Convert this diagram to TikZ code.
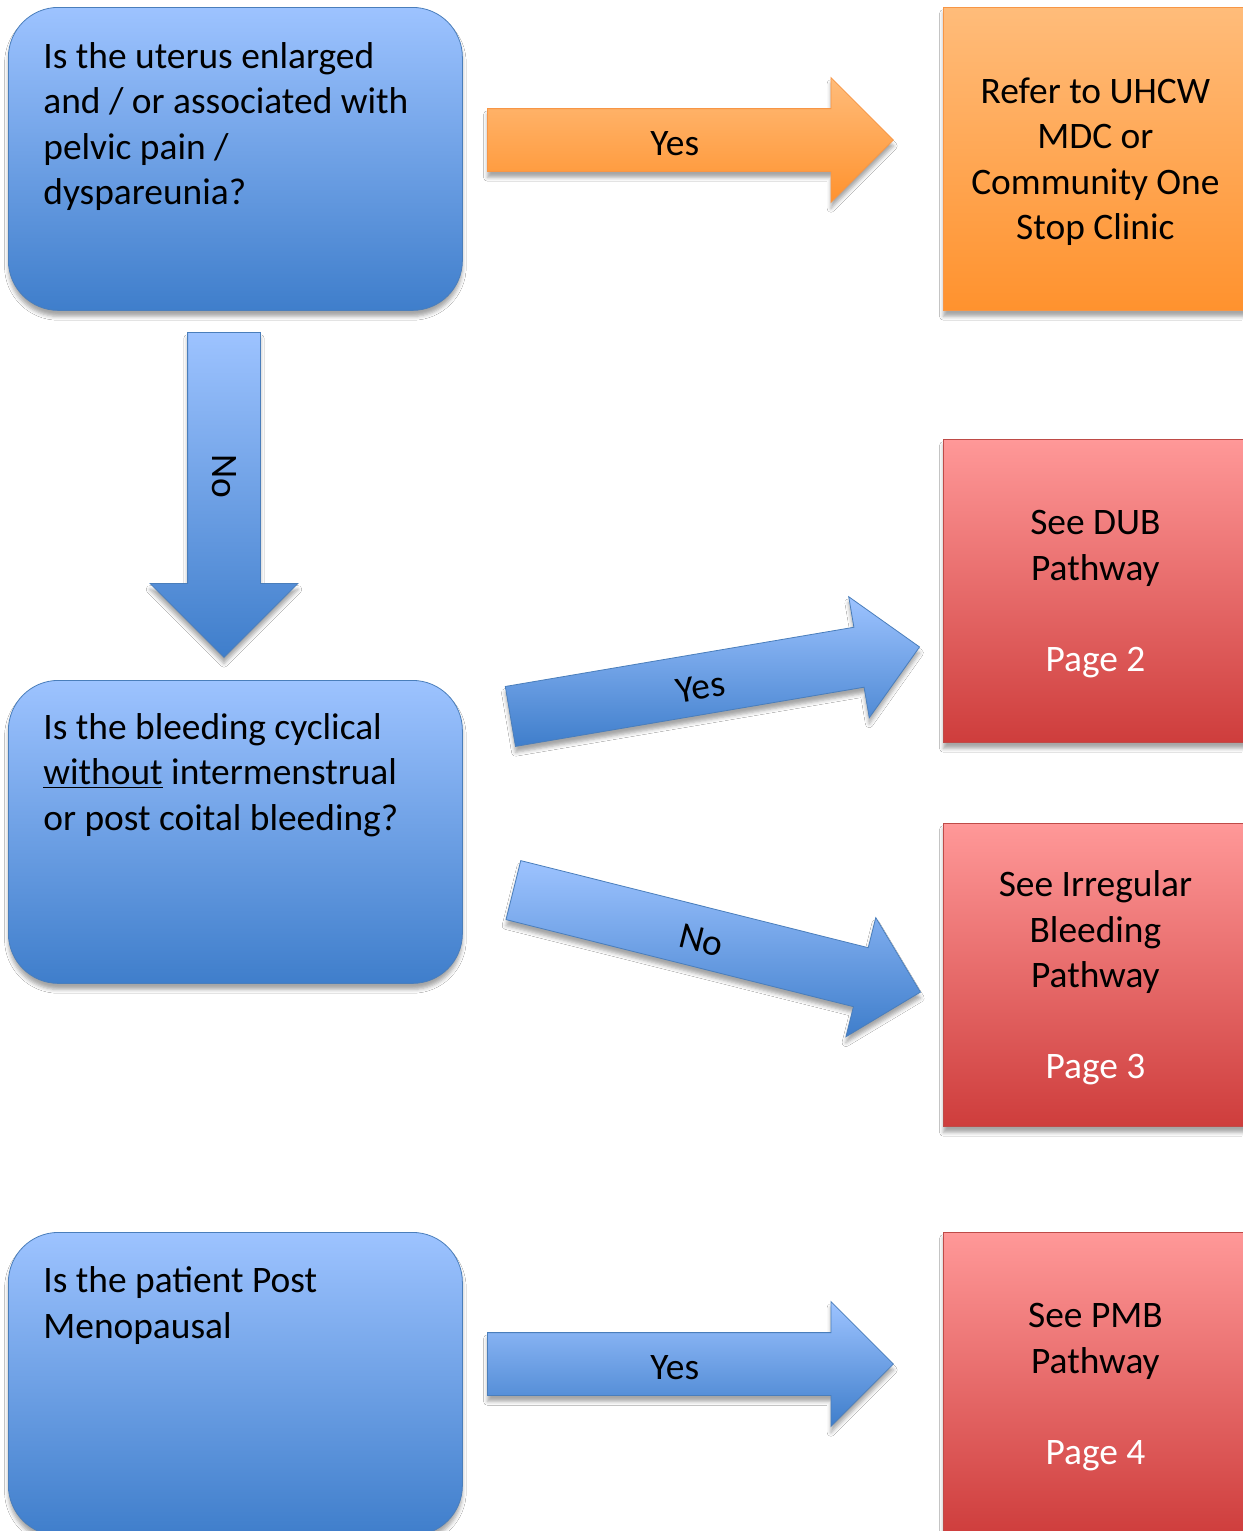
\documentclass[tikz,border=0pt]{standalone}
\usepackage{fontspec}
\setmainfont{Carlito}
\usetikzlibrary{shapes.arrows,shadows.blur}
\definecolor{bluetop}{HTML}{9DC3FF}
\definecolor{bluebot}{HTML}{3F7ECB}
\definecolor{blueline}{HTML}{4A7EBB}
\definecolor{orangetop}{HTML}{FFBC7A}
\definecolor{orangebot}{HTML}{FF922E}
\definecolor{orangeline}{HTML}{F79646}
\definecolor{redtop}{HTML}{FF9898}
\definecolor{redbot}{HTML}{CE3D3C}
\definecolor{redline}{HTML}{BE4B48}
\newcommand\qfont{\fontsize{18.7}{22.75}\selectfont}
\tikzset{
  boxshadow/.style={blur shadow={shadow xshift=0pt,shadow yshift=-3pt,shadow opacity=35}},
  question/.style={draw=blueline,top color=bluetop,bottom color=bluebot,rounded corners=25pt,
    minimum width=227pt,minimum height=151.5pt,anchor=north west,boxshadow},
  qtext/.style={anchor=base west,align=left,font=\qfont,inner sep=0pt},
  answer/.style={minimum width=152pt,minimum height=151.5pt,anchor=north west,boxshadow},
  atext/.style={align=center,font=\qfont,inner sep=0pt},
  refer/.style={answer,draw=orangeline,top color=orangetop,bottom color=orangebot},
  pathway/.style={answer,draw=redline,top color=redtop,bottom color=redbot},
  bigarrow/.style={single arrow,anchor=tail,single arrow head extend=15.5pt,minimum width=0pt,
    text height=15pt,text depth=0pt,inner xsep=2pt,inner ysep=8pt,font=\qfont,boxshadow},
  orangearrow/.style={bigarrow,draw=orangeline,top color=orangetop,bottom color=orangebot},
  bluearrow/.style={bigarrow,draw=blueline,top color=bluetop,bottom color=bluebot}
}
\begin{document}
\begin{tikzpicture}[x=0.5pt,y=-0.5pt]
  \fill[white] (0,0) rectangle (1242,1531);
  \useasboundingbox (0,0) rectangle (1242,1531);

  \node[question] (q1) at (8,7) {};
  \node[qtext] (q1text) at ([shift={(35,197.5)}]q1.north west)
    {Is the uterus enlarged\\and / or associated with\\pelvic pain /\\dyspareunia?};
  \node[question] (q2) at (8,680) {};
  \node[qtext] (q2text) at ([shift={(35,150)}]q2.north west)
    {Is the bleeding cyclical\\\underline{without} intermenstrual\\or post coital bleeding?};
  \node[question] (q3) at (8,1232) {};
  \node[qtext] (q3text) at ([shift={(35,106)}]q3.north west)
    {Is the patient Post\\Menopausal};

  \node[refer] (onestop) at (943,7) {};
  \node[atext] (onestoptext) at ([shift={(0,3)}]onestop.center)
    {Refer to UHCW\\MDC or\\Community One\\Stop Clinic};
  \node[pathway] (dub) at (943,439) {};
  \node[atext] (dubtext) at ([shift={(0,3)}]dub.center)
    {See DUB\\Pathway\\[22.75pt]\textcolor{white}{Page 2}};
  \node[pathway] (irreg) at (943,823) {};
  \node[atext] (irregtext) at ([shift={(0,3)}]irreg.center)
    {See Irregular\\Bleeding\\Pathway\\[22.75pt]\textcolor{white}{Page 3}};
  \node[pathway] (pmb) at (943,1232) {};
  \node[atext] (pmbtext) at ([shift={(0,3)}]pmb.center)
    {See PMB\\Pathway\\[22.75pt]\textcolor{white}{Page 4}};

  \node[orangearrow,minimum height=203pt] (yes1) at (487,140) {Yes};
  \node[bluearrow,minimum height=162.5pt,text height=12pt,inner ysep=12pt,
    single arrow head extend=18.75pt,rotate=-90] (no1) at (224,332) {No};
  \node[bluearrow,minimum height=207.5pt,inner ysep=7.5pt,rotate=9.64] (yes2) at (510,716.5) {Yes};
  \node[bluearrow,minimum height=209.8pt,inner ysep=7.5pt,rotate=-14.07] (no2) at (513,890) {No};
  \node[bluearrow,minimum height=203pt] (yes3) at (487,1364) {Yes};
\end{tikzpicture}
\end{document}
